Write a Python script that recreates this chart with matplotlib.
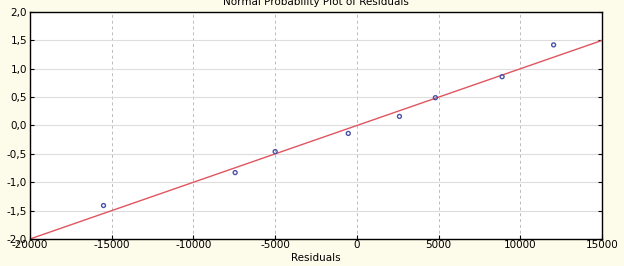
import matplotlib.pyplot as plt
import numpy as np

# residuals and expected normal values
residuals = [-15500, -7450, -5000, -530, 2600, 4800, 8880, 12030]
expected = [-1.41, -0.83, -0.46, -0.14, 0.16, 0.49, 0.86, 1.42]

# fitted line end points
line_x = [-20000, 15000]
line_y = [-2.0, 1.5]

x_ticks = [-20000, -15000, -10000, -5000, 0, 5000, 10000, 15000]
y_ticks = [-2.0, -1.5, -1.0, -0.5, 0.0, 0.5, 1.0, 1.5, 2.0]
y_labels = ['-2,0', '-1,5', '-1,0', '-0,5', '0,0', '0,5', '1,0', '1,5', '2,0']

plt.rcParams['font.family'] = ['DejaVu Sans']
plt.rcParams['axes.unicode_minus'] = False

fig = plt.figure(figsize=(6.24, 2.66), dpi=100)
fig.patch.set_facecolor('#fdfbea')
ax = fig.add_axes([0.048, 0.1015, 0.917, 0.8535])
ax.set_facecolor('white')

ax.plot(line_x, line_y, color='#e05560', linewidth=1.0, zorder=2)
ax.scatter(residuals, expected, s=8, facecolors='none', edgecolors='#4a52a8',
           linewidths=1.0, zorder=3)

ax.set_xlim(-20000, 15000)
ax.set_ylim(-2.0, 2.0)
ax.set_xticks(x_ticks)
ax.set_yticks(y_ticks)
ax.set_yticklabels(y_labels)

ax.xaxis.grid(True, linestyle=(0, (3, 3)), color='#bbbbbb', linewidth=0.7)
ax.yaxis.grid(True, linestyle='-', color='#dddddd', linewidth=0.8)
ax.set_axisbelow(True)

ax.tick_params(direction='in', length=3, width=0.8, labelsize=7.5, pad=2,
               right=True, colors='black')
ax.tick_params(axis='x', pad=1)
for s in ax.spines.values():
    s.set_linewidth(1.0)
    s.set_color('black')

ax.set_xlabel('Residuals', fontsize=7.5, labelpad=2)
fig.text(0.506, 0.992, 'Normal Probability Plot of Residuals', ha='center',
         va='center', fontsize=7.5)

fig.savefig('out.png', dpi=100, facecolor=fig.get_facecolor())
